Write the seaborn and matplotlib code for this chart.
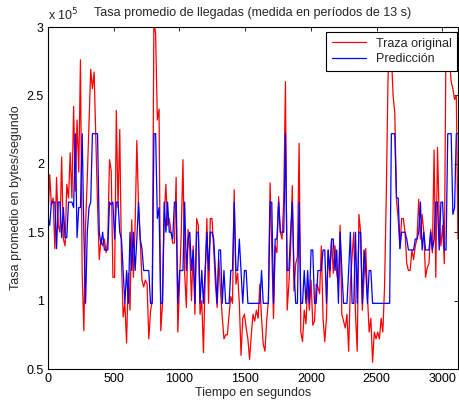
import numpy as np
import pandas as pd
import matplotlib
matplotlib.use("Agg")
import matplotlib.pyplot as plt
import seaborn as sns
from matplotlib.ticker import FormatStrFormatter

# --- data (units of 1e5 bytes/s), one sample every 13 s ---
periodo = 13
traza_original = [
    1.6, 1.92, 1.7, 1.75, 1.38, 1.9, 1.55, 1.5, 2.05, 1.45,
    1.4, 1.85, 1.75, 2.08, 1.75, 2.42, 1.8, 2.32, 1.94, 2.76,
    1.2, 0.78, 1.55, 1.9, 2.3, 2.69, 2.55, 2.67, 2.2, 1.7,
    1.3, 1.45, 1.4, 1.45, 1.35, 1.45, 2.03, 1.95, 1.17, 1.17,
    2.39, 1.68, 2.25, 1.3, 0.88, 0.98, 0.69, 1.2, 0.93, 1.59,
    1.17, 1.55, 2.17, 1.68, 1.44, 1.15, 1.1, 1.15, 1.12, 0.72,
    0.92, 1.0, 3.05, 2.95, 2.32, 2.4, 0.78, 0.97, 1.6, 1.85,
    1.55, 1.6, 1.5, 1.42, 1.42, 1.9, 0.77, 1.12, 1.5, 2.03,
    1.2, 0.95, 1.52, 1.37, 1.0, 1.4, 0.9, 1.6, 1.55, 0.9,
    1.0, 0.62, 1.17, 1.6, 0.98, 1.6, 1.6, 1.38, 1.12, 0.95,
    1.3, 1.07, 0.88, 0.72, 0.75, 0.75, 0.9, 1.03, 0.98, 1.81,
    1.12, 1.2, 0.98, 0.6, 0.87, 0.9, 0.8, 0.72, 0.57, 0.75,
    0.9, 0.85, 0.93, 0.87, 1.12, 0.87, 0.68, 0.63, 0.85, 1.0,
    1.86, 1.37, 0.87, 1.4, 1.35, 1.76, 1.5, 1.45, 1.74, 2.6,
    0.93, 1.12, 1.37, 1.84, 1.07, 1.27, 1.32, 2.15, 0.77, 0.7,
    0.93, 0.83, 1.12, 0.93, 1.15, 0.82, 0.85, 1.12, 1.1, 1.05,
    1.4, 0.87, 0.7, 0.87, 1.37, 1.17, 1.45, 1.2, 1.4, 1.2,
    1.12, 1.55, 0.9, 0.85, 0.8, 0.9, 0.63, 1.12, 1.32, 1.5,
    0.9, 0.63, 1.63, 1.5, 0.93, 1.17, 1.38, 1.03, 0.77, 0.87,
    0.55, 0.77, 0.72, 0.77, 0.72, 0.87, 0.77, 1.1, 1.75, 2.6,
    2.95, 2.8, 2.5, 2.37, 1.73, 1.6, 1.38, 1.6, 1.6, 1.5,
    1.27, 1.22, 1.22, 1.37, 1.3, 1.4, 1.45, 1.74, 1.45, 1.63,
    1.5, 1.17, 1.24, 1.27, 1.52, 1.35, 2.1, 1.17, 2.12, 1.6,
    1.4, 1.55, 1.27, 2.95, 2.95, 2.76, 2.6, 2.55, 2.47, 2.5,
    1.45,
]
prediccion = [
    1.61, 1.55, 1.72, 1.72, 1.72, 1.38, 1.72, 1.72, 1.46, 1.68,
    1.46, 1.46, 1.72, 1.72, 1.72, 1.68, 2.22, 1.46, 1.68, 1.68,
    2.22, 1.5, 0.98, 1.5, 1.68, 1.72, 2.22, 2.22, 2.22, 2.22,
    1.5, 1.41, 1.5, 1.37, 1.37, 1.37, 1.72, 1.7, 1.72, 1.45,
    1.72, 1.72, 1.5, 1.45, 1.22, 0.98, 1.22, 0.98, 1.5, 1.22,
    1.5, 1.22, 1.45, 1.72, 1.45, 1.38, 1.22, 1.22, 1.22, 1.22,
    0.98, 0.98, 2.22, 2.22, 1.6, 1.68, 0.98, 0.98, 1.72, 1.5,
    1.72, 1.5, 1.5, 1.45, 1.72, 1.72, 0.98, 1.22, 1.22, 1.22,
    1.72, 1.22, 1.45, 1.5, 1.22, 1.37, 0.98, 1.5, 1.5, 0.98,
    1.22, 0.98, 1.22, 1.5, 1.22, 1.5, 1.5, 1.45, 1.22, 0.98,
    1.37, 1.37, 0.98, 1.22, 0.98, 0.98, 0.98, 1.22, 1.22, 1.72,
    1.22, 1.22, 1.45, 1.22, 0.98, 1.22, 1.22, 0.98, 0.98, 0.98,
    0.98, 0.98, 0.98, 0.98, 0.98, 1.22, 0.98, 0.98, 0.98, 0.98,
    1.72, 1.72, 0.98, 1.45, 1.45, 1.72, 1.5, 1.5, 1.5, 2.22,
    1.22, 1.22, 1.5, 1.72, 1.22, 0.98, 0.98, 1.72, 0.98, 0.98,
    1.22, 0.98, 1.22, 0.98, 1.37, 1.37, 0.98, 0.98, 1.22, 1.22,
    1.22, 1.37, 1.37, 0.98, 1.37, 1.22, 1.45, 1.45, 1.22, 1.37,
    0.98, 1.5, 1.22, 0.98, 0.98, 0.98, 1.22, 1.5, 0.98, 0.98,
    1.5, 0.98, 1.5, 1.5, 0.98, 1.37, 1.22, 0.98, 1.22, 1.22,
    0.98, 0.98, 0.98, 0.98, 0.98, 0.98, 0.98, 0.98, 0.98, 0.98,
    0.98, 2.22, 2.22, 2.22, 1.75, 1.75, 1.38, 1.5, 1.5, 1.5,
    1.45, 1.37, 1.37, 1.37, 1.37, 1.45, 1.45, 1.5, 1.72, 1.37,
    1.5, 1.37, 1.37, 1.37, 1.5, 1.37, 1.45, 1.72, 1.72, 1.37,
    1.72, 1.72, 1.37, 1.37, 2.22, 2.22, 2.22, 1.63, 1.68, 2.22,
    2.22,
]
x_ticks = [0, 500, 1000, 1500, 2000, 2500, 3000]
y_ticks = [0.5, 1, 1.5, 2, 2.5, 3]

tiempo = np.arange(len(traza_original)) * periodo
df = pd.DataFrame({"tiempo": tiempo, "traza": traza_original, "pred": prediccion})

sns.set_style("white")
plt.rcParams["font.family"] = ["Liberation Sans", "DejaVu Sans"]
plt.rcParams["xtick.direction"] = "in"
plt.rcParams["ytick.direction"] = "in"

FS = 9

fig = plt.figure(figsize=(4.59, 4.08), dpi=100)
ax = fig.add_axes([48 / 459, 39 / 408, 410 / 459, 342 / 408])

sns.lineplot(data=df, x="tiempo", y="traza", ax=ax, color="#ff0000", lw=0.9,
             label="Traza original", estimator=None)
sns.lineplot(data=df, x="tiempo", y="pred", ax=ax, color="#0000ff", lw=0.9,
             label="Predicción", estimator=None)

ax.set_xlim(0, 3120)
ax.set_ylim(0.5, 3)
ax.set_xticks(x_ticks)
ax.set_yticks(y_ticks)
ax.yaxis.set_major_formatter(FormatStrFormatter("%g"))
ax.tick_params(axis="both", which="both", direction="in", top=True, right=True,
               length=3, width=0.6, labelsize=FS, colors="black", pad=3)
for s in ax.spines.values():
    s.set_color("black")
    s.set_linewidth(0.8)

ax.set_xlabel("Tiempo en segundos", fontsize=FS, labelpad=1)
ax.set_ylabel("Tasa promedio en bytes/segundo", fontsize=FS, labelpad=3)
ax.set_title("Tasa promedio de llegadas (medida en períodos de 13 s)",
             fontsize=FS, pad=8)
ax.text(0.0, 1.012, r"x 10$^5$", transform=ax.transAxes, fontsize=FS,
        ha="left", va="bottom")

leg = ax.legend(loc="upper right", bbox_to_anchor=(0.998, 0.985), fontsize=FS,
                frameon=True, fancybox=False, framealpha=1, edgecolor="black",
                borderaxespad=0, handlelength=2.7, borderpad=0.45,
                labelspacing=0.25, handletextpad=0.8)
leg.get_frame().set_linewidth(0.8)

fig.savefig("out.png", dpi=100, facecolor="white")
